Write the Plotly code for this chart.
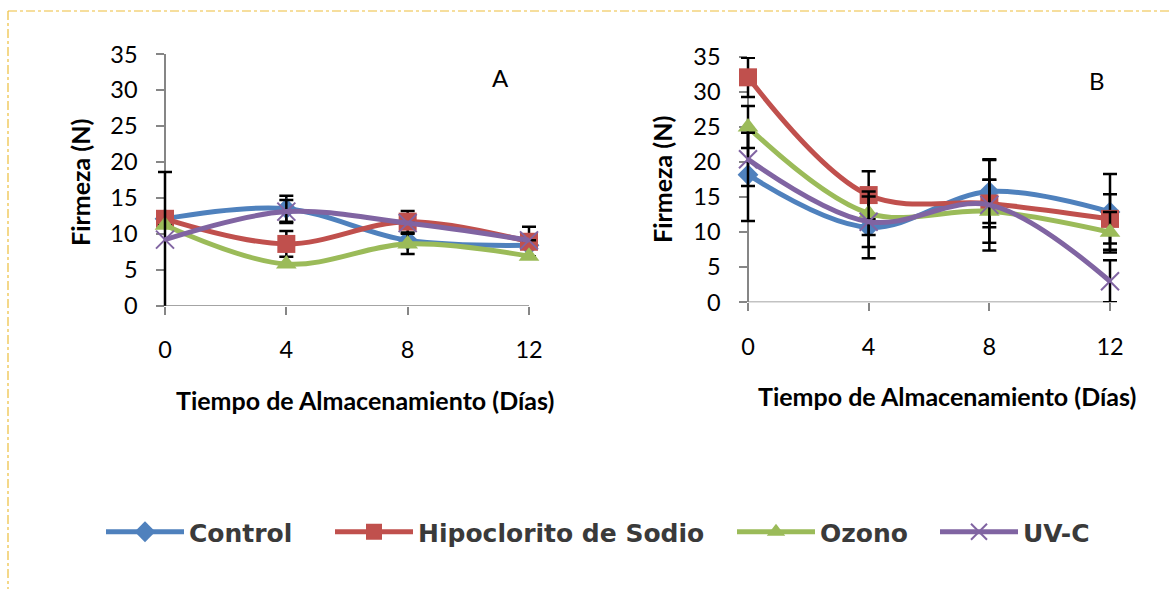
import plotly.graph_objects as go

# ---------------- data ----------------
DAYS = [0, 4, 8, 12]
SERIES = ["Control", "Hipoclorito de Sodio", "Ozono", "UV-C"]
Y_TICKS = [0, 5, 10, 15, 20, 25, 30, 35]

# Panel A
A_CONTROL = [12.1, 13.5, 9.1, 8.4]
A_HIPO = [12.1, 8.6, 11.7, 8.9]
A_OZONO = [11.2, 5.8, 8.6, 6.9]
A_UVC = [9.2, 13.1, 11.5, 9.1]

A_CONTROL_ERR = [None, 1.8, None, None]
A_HIPO_ERR = [None, 1.8, 1.5, 2.1]
A_OZONO_ERR = [None, None, 1.4, None]
A_UVC_ERR = [9.4, 1.6, None, None]

# Panel B
B_CONTROL = [18.2, 10.7, 15.8, 12.9]
B_HIPO = [32.1, 15.3, 14.1, 11.9]
B_OZONO = [25.0, 12.7, 13.0, 10.0]
B_UVC = [20.4, 11.5, 13.9, 3.0]

B_CONTROL_ERR = [6.6, 4.4, 4.5, 5.4]
B_HIPO_ERR = [2.8, 3.4, 3.4, 3.5]
B_OZONO_ERR = [3.0, 3.1, 4.5, 2.9]
B_UVC_ERR = [3.8, 3.6, 6.5, 3.0]

# ---------------- style ----------------
W, H = 1169, 589
COLORS = ["#4F81BD", "#C0504D", "#9BBB59", "#8064A2"]
SYMBOLS = ["diamond", "square", "triangle-up", "x-thin"]
SIZES = [16, 18, 18, 18]
AXIS_GRAY = "#868686"
TICK_FONT = dict(family="Lato", size=23.5, color="black")
TITLE_FONT = dict(family="Lato", size=25, color="black", weight="bold")
PAD = 0.45
LEGEND_X_PX = [101, 330, 732, 935]   # left edge of each legend entry
LEGEND_Y_PX = 532


def px_x(p):
    return p / W


def px_y(p):
    return 1 - p / H


panels = [
    dict(label="A", px0=165, px1=529, py0=305.7, py1=54.3,
         vals=[A_CONTROL, A_HIPO, A_OZONO, A_UVC],
         errs=[A_CONTROL_ERR, A_HIPO_ERR, A_OZONO_ERR, A_UVC_ERR],
         ytitle=(80, 183), xtitle=(365, 400), letter=(500, 77)),
    dict(label="B", px0=748, px1=1110, py0=302.3, py1=57,
         vals=[B_CONTROL, B_HIPO, B_OZONO, B_UVC],
         errs=[B_CONTROL_ERR, B_HIPO_ERR, B_OZONO_ERR, B_UVC_ERR],
         ytitle=(662, 180), xtitle=(947, 396), letter=(1097, 81)),
]

fig = go.Figure()
annotations = []
shapes = []
layout_axes = {}

for i, p in enumerate(panels):
    n = i + 1
    xa = "x" if n == 1 else f"x{n}"
    ya = "y" if n == 1 else f"y{n}"
    span = DAYS[-1] - DAYS[0]
    ppu = (p["px1"] - p["px0"]) / span
    dx0 = px_x(p["px0"] - PAD * ppu)
    dx1 = px_x(p["px1"] + PAD * ppu)
    for k, name in enumerate(SERIES):
        err = p["errs"][k]
        fig.add_trace(go.Scatter(
            x=DAYS, y=p["vals"][k], name=name, xaxis=xa, yaxis=ya,
            mode="lines+markers", legendgroup=name, showlegend=(n == 1),
            legend="legend" if k == 0 else f"legend{k + 1}",
            line=dict(color=COLORS[k], width=5, shape="spline", smoothing=1),
            marker=dict(symbol=SYMBOLS[k], size=SIZES[k], color=COLORS[k],
                        line=dict(width=2 if SYMBOLS[k] == "x-thin" else 0,
                                  color=COLORS[k])),
            error_y=dict(type="data", array=err, symmetric=True,
                         color="black", thickness=2.5, width=7),
            cliponaxis=False,
        ))
    xkey = "xaxis" if n == 1 else f"xaxis{n}"
    ykey = "yaxis" if n == 1 else f"yaxis{n}"
    layout_axes[xkey] = dict(
        domain=[dx0, dx1], range=[DAYS[0] - PAD, DAYS[-1] + PAD],
        anchor=ya, tickvals=DAYS, ticktext=[str(d) for d in DAYS],
        showline=False, showgrid=False, zeroline=False, automargin=False,
        ticks="outside", ticklen=8, tickwidth=1.5, tickcolor=AXIS_GRAY,
        tickfont=TICK_FONT, ticklabelstandoff=15, layer="below traces",
    )
    layout_axes[ykey] = dict(
        domain=[px_y(p["py0"]), px_y(p["py1"])], range=[0, 35],
        anchor="free", position=px_x(p["px0"]), tickvals=Y_TICKS,
        showline=True, linecolor=AXIS_GRAY, linewidth=1.5,
        showgrid=False, zeroline=False, automargin=False,
        ticks="outside", ticklen=8, tickwidth=1.5, tickcolor=AXIS_GRAY,
        tickfont=TICK_FONT, ticklabelstandoff=14, layer="below traces",
    )
    # x axis line from first to last day
    shapes.append(dict(type="line", xref=xa, yref=ya, x0=DAYS[0], x1=DAYS[-1],
                       y0=0, y1=0, layer="below",
                       line=dict(color=AXIS_GRAY, width=1.5)))
    annotations.append(dict(text="Firmeza (N)", textangle=-90,
                            x=px_x(p["ytitle"][0]), y=px_y(p["ytitle"][1]),
                            xref="paper", yref="paper", showarrow=False,
                            xanchor="center", yanchor="middle", font=TITLE_FONT))
    annotations.append(dict(text="Tiempo de Almacenamiento (Días)",
                            x=px_x(p["xtitle"][0]), y=px_y(p["xtitle"][1]),
                            xref="paper", yref="paper", showarrow=False,
                            xanchor="center", yanchor="middle", font=TITLE_FONT))
    annotations.append(dict(text=p["label"],
                            x=px_x(p["letter"][0]), y=px_y(p["letter"][1]),
                            xref="paper", yref="paper", showarrow=False,
                            xanchor="center", yanchor="middle",
                            font=dict(family="Lato", size=24, color="black")))

# dash-dot frame (top and left edges visible)
frame = dict(color="#EDBE3C", width=1.2, dash="9px,3px,3px,3px")
shapes.append(dict(type="line", xref="paper", yref="paper",
                   x0=px_x(8), x1=1.0, y0=px_y(11), y1=px_y(11), line=frame))
shapes.append(dict(type="line", xref="paper", yref="paper",
                   x0=px_x(8), x1=px_x(8), y0=px_y(11), y1=0.0, line=frame))

legend_font = dict(family="DejaVu Sans", size=25, color="#3a3a3a", weight="bold")
legends = {}
for k, lx in enumerate(LEGEND_X_PX):
    key = "legend" if k == 0 else f"legend{k + 1}"
    legends[key] = dict(orientation="h", x=px_x(lx), xanchor="left",
                        y=px_y(LEGEND_Y_PX), yanchor="middle",
                        font=legend_font, itemwidth=78,
                        bgcolor="rgba(0,0,0,0)", borderwidth=0)

fig.update_layout(
    width=W, height=H,
    margin=dict(l=0, r=0, t=0, b=0, pad=0, autoexpand=False),
    paper_bgcolor="white", plot_bgcolor="white",
    showlegend=True,
    annotations=annotations,
    shapes=shapes,
    **legends,
    **layout_axes,
)

fig.write_html("out.html", config={"displayModeBar": False},
               post_script="document.body.style.margin='0px';")
